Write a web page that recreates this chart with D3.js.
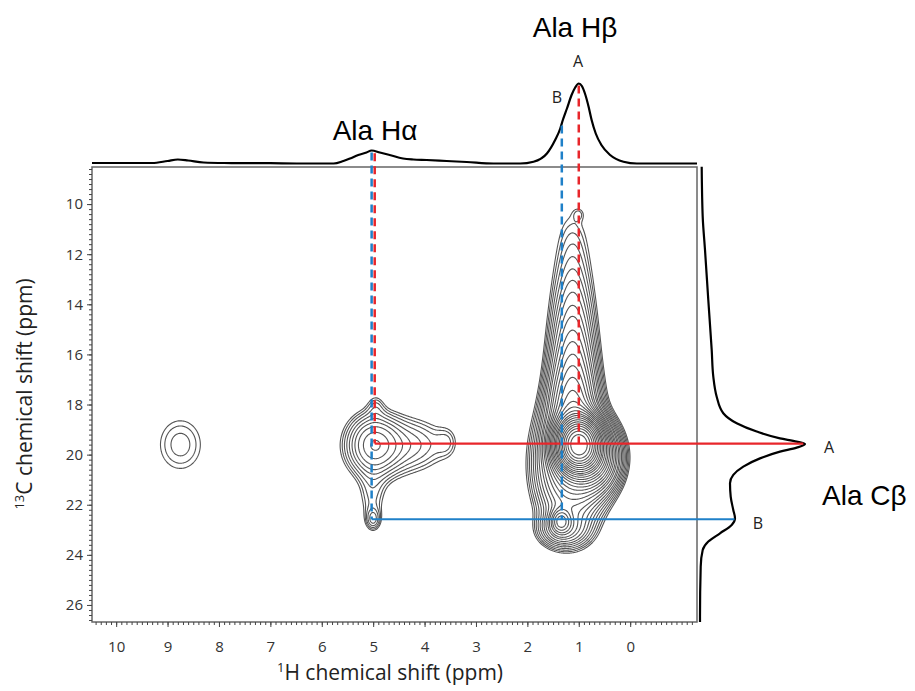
<!DOCTYPE html>
<html>
<head>
<meta charset="utf-8">
<script src="https://cdn.jsdelivr.net/npm/d3@7"></script>
<style>
body { margin: 0; background: #fff; }
text { font-family: "Open Sans", sans-serif; fill: #222; }
.big { font-family: "Liberation Sans", Arial, sans-serif; font-size: 28px; fill: #000; }
.axis text { font-size: 15px; fill: #333; }
.axis line { stroke: #444; }
.axis path { display: none; }
</style>
</head>
<body>
<script>
// tick labels
var xTickLabels = [10, 9, 8, 7, 6, 5, 4, 3, 2, 1, 0];
var yTickLabels = [10, 12, 14, 16, 18, 20, 22, 24, 26];

// peak list of the 2D spectrum (1H ppm, 13C ppm, widths, height)
var peakH   = [8.75, 5.0, 4.75, 4.1, 3.55, 4.95, 5.0, 5.02, 1.0, 1.15, 0.7, 1.35, 1.3, 1.12, 1.12, 1.12, 1.12, 1.12, 1.12, 1.12, 1.12, 1.12, 1.0];
var peakC   = [19.6, 19.6, 19.7, 19.6, 19.5, 18.0, 22.6, 21.8, 19.6, 20.4, 20.1, 22.65, 23.0, 10.6, 11.5, 12.5, 13.5, 14.5, 15.5, 16.5, 17.5, 18.5, 10.4];
var peakWH  = [0.4, 0.33, 0.6, 0.45, 0.15, 0.12, 0.1, 0.2, 0.22, 0.4, 0.28, 0.12, 0.3, 0.27, 0.27, 0.27, 0.27, 0.27, 0.27, 0.27, 0.27, 0.27, 0.08];
var peakWC  = [0.98, 0.78, 1.0, 0.75, 0.45, 0.35, 0.3, 0.8, 0.55, 1.45, 0.75, 0.3, 0.45, 0.9, 0.9, 0.9, 0.9, 0.9, 0.9, 0.9, 0.9, 0.9, 0.18];
var peakAmp = [0.08, 0.2, 0.06, 0.07, 0.04, 0.04, 0.08, 0.065, 10, 0.55, 0.9, 0.35, 0.2, 0.025, 0.035, 0.05, 0.075, 0.11, 0.16, 0.23, 0.33, 0.5, 0.03];

var levels = [0.05, 0.06, 0.072, 0.087, 0.105, 0.126, 0.15, 0.18, 0.22, 0.26, 0.32, 0.38, 0.46, 0.55, 0.66, 0.8, 0.96, 1.15, 1.4, 1.7, 2.0, 2.4, 2.9, 3.5, 4.2, 5.0, 6.0, 7.2, 8.7];

// 1H projection (top)
var topH = [10.47, 9.3, 9.0, 8.8, 8.6, 8.3, 7.9, 7.0, 6.42, 6.03, 5.77, 5.58, 5.45, 5.29, 5.13, 5.03, 4.87, 4.68, 4.42, 4.22, 3.96, 3.57, 3.18, 2.66, 2.14, 1.88, 1.62, 1.46, 1.36, 1.31, 1.23, 1.14, 1.07, 1.0, 0.94, 0.88, 0.81, 0.75, 0.67, 0.56, 0.39, 0.13, -0.13, -1.30];
var topI = [0.5, 0.5, 2.5, 4, 3, 1, 0.5, 0.3, 0, 0, 0, 2.5, 5, 8.5, 11, 13, 11, 8.5, 5, 4, 3.5, 2.5, 1.5, 0, 0, 1.8, 10, 23.5, 35, 43.5, 55, 68.5, 76, 80, 77.5, 70, 57, 43.5, 30, 18.5, 8.5, 1.8, 0, 0];

// 13C projection (right)
var sideC = [8.51, 10.5, 11.83, 13.83, 15.82, 16.89, 17.69, 18.35, 18.75, 19.08, 19.35, 19.48, 19.58, 19.72, 19.88, 20.15, 20.48, 20.81, 21.14, 21.68, 22.21, 22.54, 22.81, 23.14, 23.47, 23.81, 24.47, 26.47, 26.68];
var sideI = [1.7, 2.7, 5, 8.3, 11.7, 13.3, 16.7, 23.3, 36.7, 56.7, 80, 96.7, 105, 96.7, 80, 60, 43.3, 33.3, 30, 30.7, 33.3, 35, 31.7, 20, 8.3, 2.7, 0.7, 0, 0];

// correlations A and B
var corrName = ["A", "B"];
var corrC = [19.56, 22.58];
var corrHb = [1.0, 1.33];
var corrHa = [4.97, 5.03];
var corrColor = ["#e8262b", "#1f80c8"];

var width = 915, height = 691;
var plot = {left: 92, right: 697, top: 167, bottom: 622};

var x = d3.scaleLinear().domain([10.47, -1.30]).range([plot.left, plot.right]);
var y = d3.scaleLinear().domain([8.52, 26.68]).range([plot.top, plot.bottom]);
var topY = d3.scaleLinear().domain([0, 80]).range([163.5, 83.5]);
var sideX = d3.scaleLinear().domain([0, 105]).range([700, 805]);

var svg = d3.select("body").append("svg")
    .attr("width", width)
    .attr("height", height);

svg.append("clipPath").attr("id", "clip")
  .append("rect")
    .attr("x", plot.left).attr("y", plot.top)
    .attr("width", plot.right - plot.left)
    .attr("height", plot.bottom - plot.top);

// intensity grid, one cell per pixel
var nx = plot.right - plot.left, ny = plot.bottom - plot.top;
var gx = peakH.map(function(h, p) {
  var a = new Float64Array(nx);
  for (var i = 0; i < nx; i++) {
    var d = (x.invert(plot.left + i + 0.5) - h) / peakWH[p];
    a[i] = Math.exp(-d * d / 2);
  }
  return a;
});
var gy = peakC.map(function(c, p) {
  var a = new Float64Array(ny);
  for (var j = 0; j < ny; j++) {
    var d = (y.invert(plot.top + j + 0.5) - c) / peakWC[p];
    a[j] = peakAmp[p] * Math.exp(-d * d / 2);
  }
  return a;
});
var values = new Float64Array(nx * ny);
for (var j = 0; j < ny; j++) {
  for (var i = 0; i < nx; i++) {
    var s = 0;
    for (var p = 0; p < peakH.length; p++) s += gy[p][j] * gx[p][i];
    values[j * nx + i] = s;
  }
}

var contours = d3.contours().size([nx, ny]).thresholds(levels)(values);

svg.append("g")
    .attr("clip-path", "url(#clip)")
  .append("g")
    .attr("transform", "translate(" + plot.left + "," + plot.top + ")")
  .selectAll("path")
    .data(contours)
  .enter().append("path")
    .attr("d", d3.geoPath())
    .attr("fill", "none")
    .attr("stroke", "#555")
    .attr("stroke-width", 1.1);

// frame
svg.append("rect")
    .attr("x", plot.left).attr("y", plot.top)
    .attr("width", plot.right - plot.left)
    .attr("height", plot.bottom - plot.top)
    .attr("fill", "none")
    .attr("stroke", "#666")
    .attr("stroke-width", 1.5);

// axes
svg.append("g").attr("class", "axis")
    .attr("transform", "translate(0," + plot.bottom + ")")
    .call(d3.axisBottom(x).tickValues(d3.range(10.4, -1.3, -0.1)).tickSize(3).tickFormat(""));
svg.append("g").attr("class", "axis")
    .attr("transform", "translate(0," + plot.bottom + ")")
    .call(d3.axisBottom(x).tickValues(xTickLabels).tickSize(5).tickPadding(14).tickFormat(d3.format("d")));
svg.append("g").attr("class", "axis")
    .attr("transform", "translate(" + plot.left + ",0)")
    .call(d3.axisLeft(y).tickValues(d3.range(8.6, 26.68, 0.2)).tickSize(3).tickFormat(""));
svg.append("g").attr("class", "axis")
    .attr("transform", "translate(" + plot.left + ",0)")
    .call(d3.axisLeft(y).tickValues(yTickLabels).tickSize(5).tickPadding(4).tickFormat(d3.format("d")));

// projections
var topData = topH.map(function(h, i) { return {h: h, v: topI[i]}; });
var sideData = sideC.map(function(c, i) { return {c: c, v: sideI[i]}; });

svg.append("path")
    .datum(topData)
    .attr("fill", "none")
    .attr("stroke", "#000")
    .attr("stroke-width", 2.2)
    .attr("d", d3.line().x(function(d) { return x(d.h); }).y(function(d) { return topY(d.v); }).curve(d3.curveMonotoneX));

svg.append("path")
    .datum(sideData)
    .attr("fill", "none")
    .attr("stroke", "#000")
    .attr("stroke-width", 2.2)
    .attr("d", d3.line().x(function(d) { return sideX(d.v); }).y(function(d) { return y(d.c); }).curve(d3.curveMonotoneY));

function topAt(h) {
  var k = topH.findIndex(function(v) { return v <= h; });
  if (k <= 0) return topI[Math.max(k, 0)];
  var t = (topH[k - 1] - h) / (topH[k - 1] - topH[k]);
  return topI[k - 1] + t * (topI[k] - topI[k - 1]);
}
function sideAt(c) {
  var k = sideC.findIndex(function(v) { return v >= c; });
  if (k <= 0) return sideI[Math.max(k, 0)];
  var t = (c - sideC[k - 1]) / (sideC[k] - sideC[k - 1]);
  return sideI[k - 1] + t * (sideI[k] - sideI[k - 1]);
}

// correlation lines
var lines = svg.append("g");
corrName.forEach(function(n, k) {
  [corrHb[k], corrHa[k]].forEach(function(h) {
    lines.append("line")
        .attr("x1", x(h)).attr("x2", x(h))
        .attr("y1", topY(topAt(h)) + 2).attr("y2", y(corrC[k]))
        .attr("stroke", corrColor[k])
        .attr("stroke-width", 2.5)
        .attr("stroke-dasharray", "8,5");
  });
  lines.append("line")
      .attr("x1", x(corrHa[k])).attr("x2", sideX(sideAt(corrC[k])))
      .attr("y1", y(corrC[k])).attr("y2", y(corrC[k]))
      .attr("stroke", corrColor[k])
      .attr("stroke-width", 2.2);
});

// labels
svg.append("text").attr("x", 578).attr("y", 67).attr("text-anchor", "middle").style("font-size", "16px").text("A");
svg.append("text").attr("x", 557).attr("y", 103).attr("text-anchor", "middle").style("font-size", "16px").text("B");
svg.append("text").attr("x", 829).attr("y", 453).attr("text-anchor", "middle").style("font-size", "16px").text("A");
svg.append("text").attr("x", 758).attr("y", 529).attr("text-anchor", "middle").style("font-size", "16px").text("B");

svg.append("text").attr("class", "big").attr("x", 575).attr("y", 37).attr("text-anchor", "middle").text("Ala H\u03b2");
svg.append("text").attr("class", "big").attr("x", 375).attr("y", 140).attr("text-anchor", "middle").text("Ala H\u03b1");
svg.append("text").attr("class", "big").attr("x", 822).attr("y", 505).text("Ala C\u03b2");

var xt = svg.append("text")
    .attr("x", 390).attr("y", 680)
    .attr("text-anchor", "middle")
    .style("font-size", "21px");
xt.append("tspan").attr("dy", "-8").style("font-size", "13px").text("1");
xt.append("tspan").attr("dy", "8").text("H chemical shift (ppm)");

var yt = svg.append("text")
    .attr("transform", "translate(32,394) rotate(-90)")
    .attr("text-anchor", "middle")
    .style("font-size", "21px");
yt.append("tspan").attr("dy", "-8").style("font-size", "13px").text("13");
yt.append("tspan").attr("dy", "8").text("C chemical shift (ppm)");
</script>
</body>
</html>
